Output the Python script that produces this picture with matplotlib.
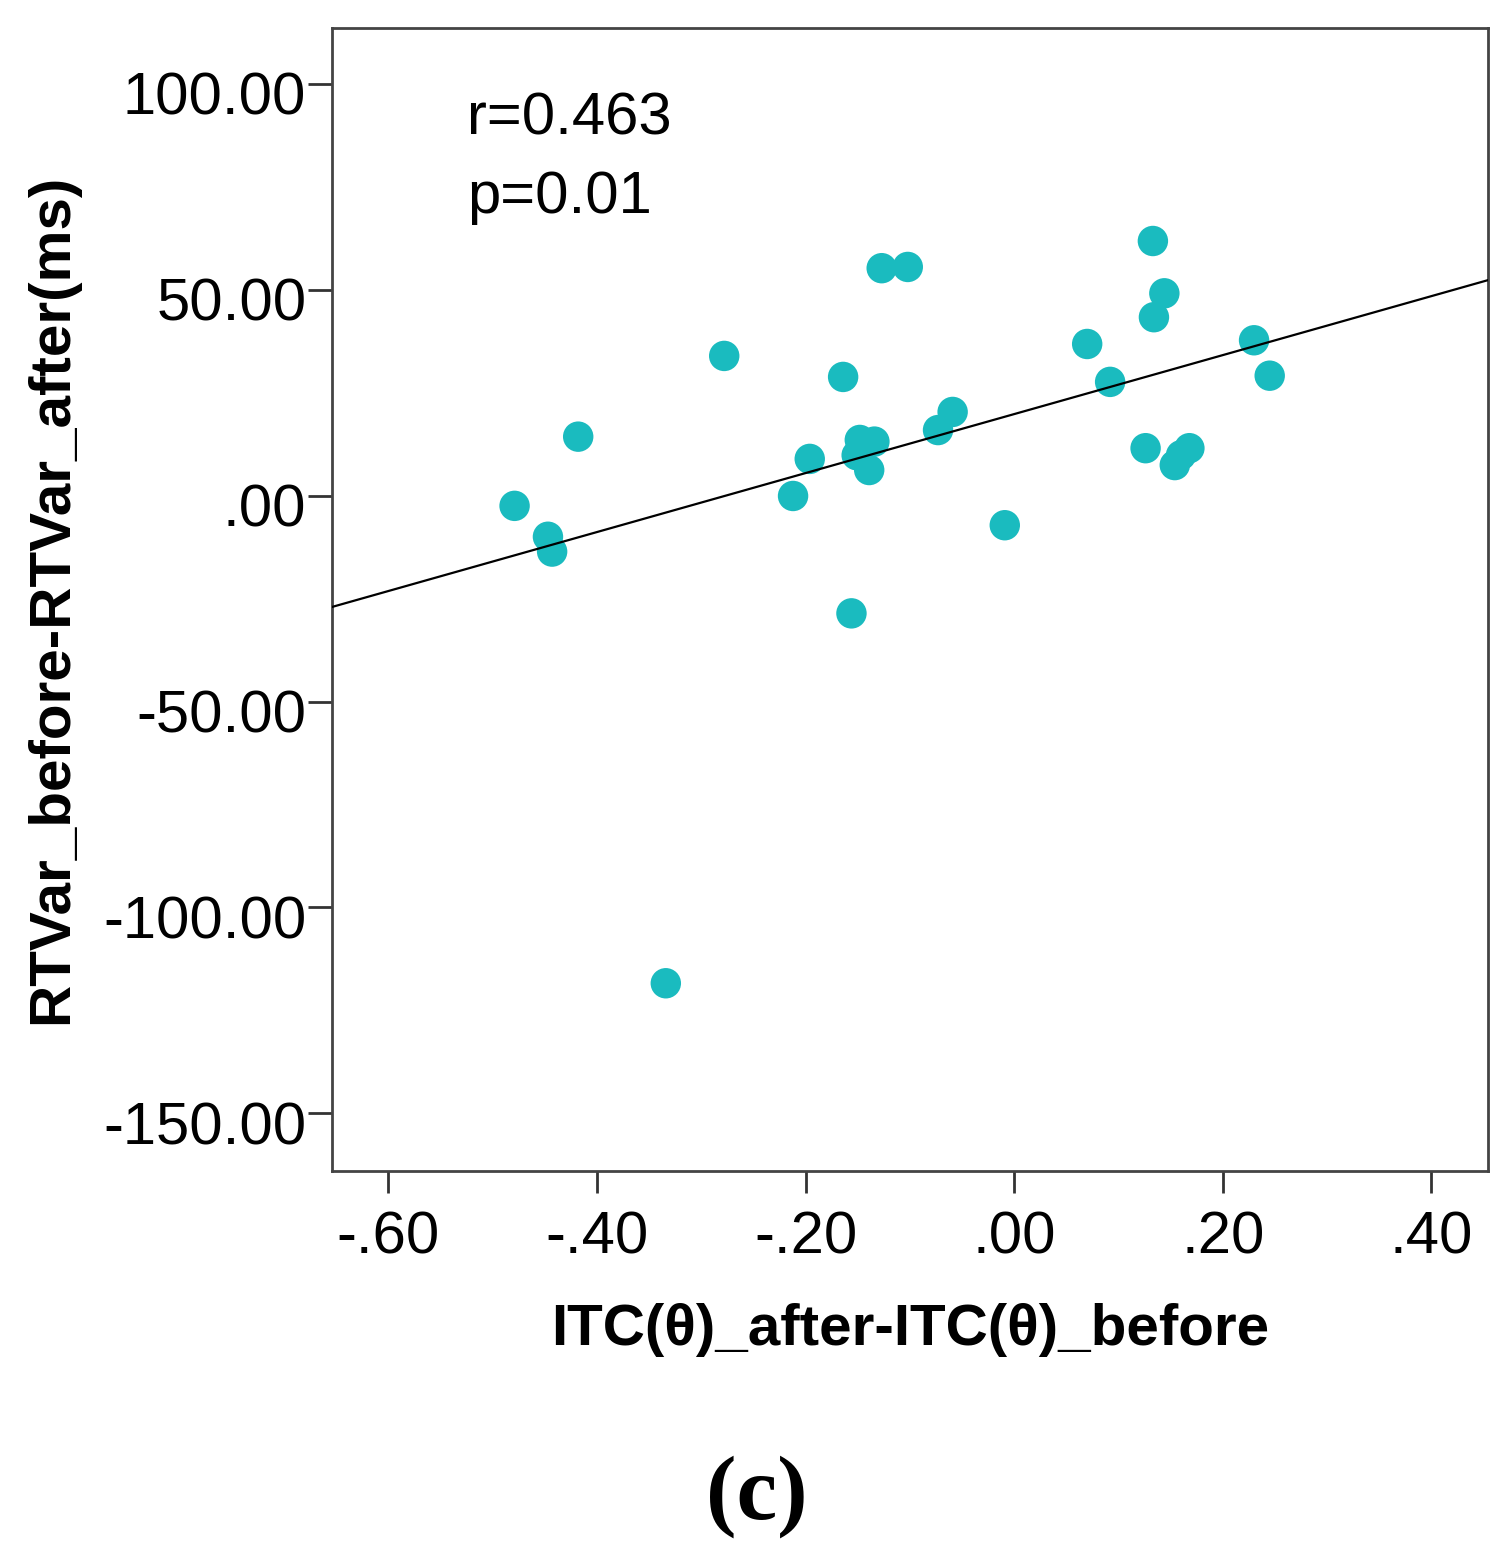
import numpy as np
import matplotlib
matplotlib.use("Agg")
import matplotlib.pyplot as plt
from matplotlib.transforms import ScaledTranslation

# ---- data ----
itc_diff = [-0.479, -0.447, -0.443, -0.418, -0.334, -0.278, -0.212, -0.196,
            -0.164, -0.156, -0.148, -0.134, -0.151, -0.139, -0.127, -0.102,
            -0.073, -0.059, -0.009, 0.070, 0.092, 0.126, 0.133, 0.144,
            0.134, 0.154, 0.160, 0.168, 0.230, 0.245]
rtvar_diff = [-2.5, -10.0, -13.6, 14.3, -118.4, 33.9, -0.1, 8.9,
              28.8, -28.6, 13.5, 13.1, 9.8, 6.2, 55.2, 55.5,
              15.9, 20.3, -7.2, 36.8, 27.6, 11.5, 61.8, 49.1,
              43.3, 7.4, 9.8, 11.5, 37.7, 29.1]
x_ticks = [-0.6, -0.4, -0.2, 0.0, 0.2, 0.4]
x_tick_labels = ["-.60", "-.40", "-.20", ".00", ".20", ".40"]
y_ticks = [100, 50, 0, -50, -100, -150]
y_tick_labels = ["100.00", "50.00", ".00", "-50.00", "-100.00", "-150.00"]
x_label = "ITC(θ)_after-ITC(θ)_before"
y_label = "RTVar_before-RTVar_after(ms)"
stats_text = ["r=0.463", "p=0.01"]
panel_label = "(c)"

x = np.array(itc_diff)
y = np.array(rtvar_diff)

fig = plt.figure(figsize=(15.10, 15.58), dpi=100)
ax = fig.add_axes([0.2199, 0.2486, 0.7656, 0.7334])

xlim = (-0.654, 0.4544)
ylim = (-163.9, 113.5)

ax.scatter(x, y, s=480, color="#1ABBBF", edgecolors="none", zorder=3)

slope, intercept = np.polyfit(x, y, 1)
xx = np.array(xlim)
ax.plot(xx, slope * xx + intercept, color="black", lw=1.6, zorder=4)

ax.set_xlim(*xlim)
ax.set_ylim(*ylim)

ax.set_xticks(x_ticks)
ax.set_xticklabels(x_tick_labels)
ax.set_yticks(y_ticks)
ax.set_yticklabels(y_tick_labels)

for sp in ax.spines.values():
    sp.set_color("#444444")
    sp.set_linewidth(2.0)

ax.tick_params(axis="x", direction="out", length=16, width=2, color="#333333",
               pad=13, labelsize=43)
ax.tick_params(axis="y", direction="out", length=17, width=2, color="#333333",
               pad=1.5, labelsize=43)
for lab in ax.get_xticklabels() + ax.get_yticklabels():
    lab.set_family(["Liberation Sans", "DejaVu Sans"])
off = ScaledTranslation(0, -9.5 / 100, fig.dpi_scale_trans)
for lab in ax.get_yticklabels():
    lab.set_transform(lab.get_transform() + off)

ax.set_xlabel(x_label, fontsize=42, fontweight="bold",
              family=["Liberation Sans", "DejaVu Sans"])
ax.xaxis.set_label_coords(0.5, -0.1394)
ax.xaxis.label.set_va("center")
ax.set_ylabel(y_label, fontsize=42, fontweight="bold",
              family=["Liberation Sans", "DejaVu Sans"])
ax.yaxis.set_label_coords(-0.2422, 0.5)
ax.yaxis.label.set_va("center")

ax.text(0.1167, 0.9064, stats_text[0], transform=ax.transAxes, fontsize=43,
        va="baseline", ha="left", family=["Liberation Sans", "DejaVu Sans"])
ax.text(0.1167, 0.8381, stats_text[1], transform=ax.transAxes, fontsize=43,
        va="baseline", ha="left", family=["Liberation Sans", "DejaVu Sans"])

fig.text(0.5013, 1 - 1497 / 1558, panel_label, fontsize=66, fontweight="bold",
         ha="center", va="center", family=["Liberation Serif", "DejaVu Serif"])

fig.savefig("out.png", dpi=100, facecolor="white")
